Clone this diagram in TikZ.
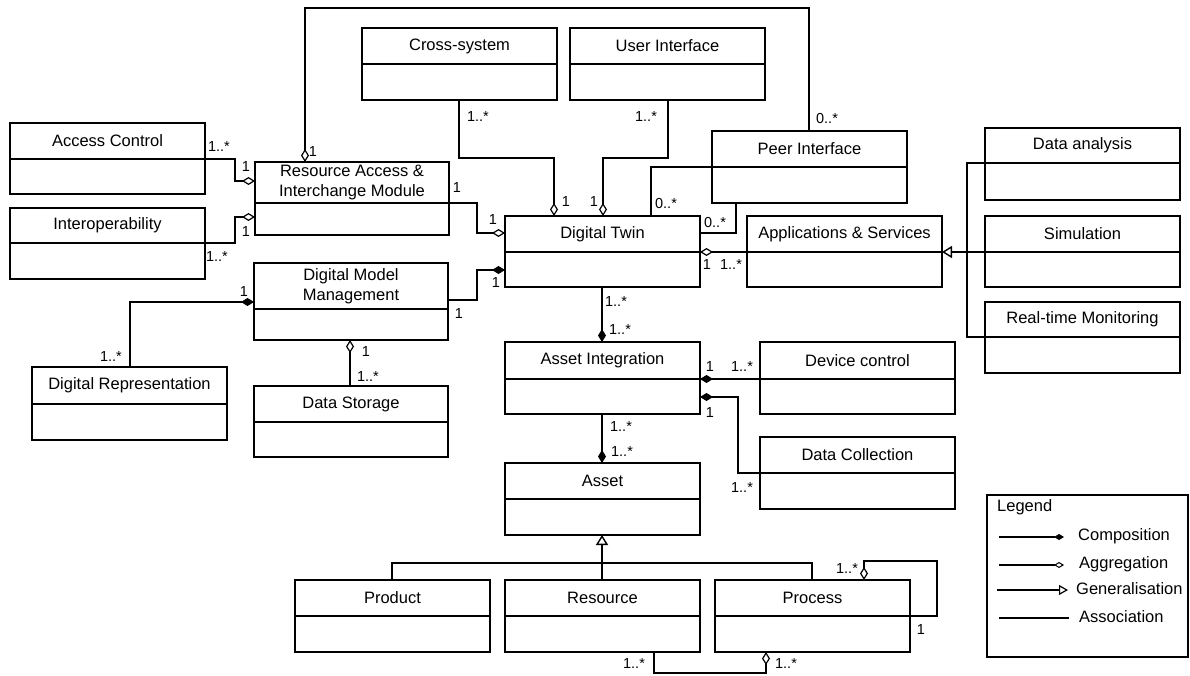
\documentclass[tikz,border=0pt]{standalone}
\usepackage{fontspec}
\setmainfont{Liberation Sans}
\usetikzlibrary{arrows.meta}
\newcommand\umlbox[7]{%
  \node[classbox, minimum width={#4-#2}, minimum height={#5-#3}, anchor=north west] (#1) at (#2,#3) {};
  \draw[divline] (#2,#6) -- (#4,#6);
  \node[ttl] (#1t) at ({(#2+#4)/2},{(#3+#6)/2}) {#7};
}
\begin{document}
\begin{tikzpicture}[x=1pt,y=-1pt,
  classbox/.style={draw, line width=1.6pt, inner sep=0pt, outer sep=0pt},
  divline/.style={line width=2.4pt},
  ttl/.style={font=\fontsize{16.5}{20}\selectfont, align=center, inner sep=0pt},
  conn/.style={line width=1.3pt},
  lbl/.style={font=\fontsize{14.5}{16}\selectfont, inner sep=0pt},
  agg/.style={conn, -{Diamond[open, length=13pt, width=8pt, line width=1.2pt]}},
  comp/.style={conn, -{Diamond[length=13pt, width=8pt]}},
  gen/.style={conn, -{Triangle[open, length=10pt, width=12pt, line width=1.4pt]}},
  lagg/.style={conn, -{Diamond[open, length=10pt, width=6pt, line width=1pt]}},
  lcomp/.style={conn, -{Diamond[length=10pt, width=6pt]}},
  lgen/.style={conn, -{Triangle[open, length=9pt, width=10pt, line width=1.2pt]}},
  ltxt/.style={font=\fontsize{16.5}{20}\selectfont, inner sep=0pt, anchor=west}
]
\useasboundingbox[fill=white] (0,0) rectangle (1190,676);

% class boxes
\umlbox{AC}{10}{123}{205}{194}{159}{Access Control}
\umlbox{IO}{10}{208}{205}{279}{243}{Interoperability}
\umlbox{RA}{255}{162}{449}{235}{203}{Resource Access \&\\Interchange Module}
\umlbox{DMM}{254}{263}{448}{340}{309}{Digital Model\\Management}
\umlbox{DR}{32}{367}{227}{440}{404}{Digital Representation}
\umlbox{DS}{254}{386}{448}{457}{422}{Data Storage}
\umlbox{CS}{362}{28}{557}{100}{64}{Cross-system}
\umlbox{UI}{570}{28}{765}{100}{64}{User Interface}
\umlbox{PI}{712}{131}{907}{203}{167}{Peer Interface}
\umlbox{DT}{505}{216}{700}{287}{252}{Digital Twin}
\umlbox{AS}{747}{216}{942}{287}{252}{Applications \& Services}
\umlbox{DA}{985}{128}{1180}{200}{163}{Data analysis}
\umlbox{SIM}{985}{216}{1180}{287}{252}{Simulation}
\umlbox{RTM}{985}{302}{1180}{373}{337}{Real-time Monitoring}
\umlbox{AI}{505}{342}{700}{414}{379}{Asset Integration}
\umlbox{DEV}{760}{342}{955}{414}{379}{Device control}
\umlbox{DCOL}{760}{437}{955}{509}{473}{Data Collection}
\umlbox{AST}{505}{463}{700}{535}{499}{Asset}
\umlbox{PROD}{295}{580}{490}{652}{616}{Product}
\umlbox{RES}{505}{580}{700}{652}{616}{Resource}
\umlbox{PROC}{715}{580}{910}{652}{616}{Process}

% connectors
\draw[agg] (PI.north -| 809,0) -- (809,8) -- (305,8) -- (RA.north -| 305,0);
\draw[agg] (AC.east |- 0,159) -- (235,159) -- (235,181) -- (RA.west |- 0,181);
\draw[agg] (IO.east |- 0,243) -- (235,243) -- (235,217) -- (RA.west |- 0,217);
\draw[agg] (RA.east |- 0,203) -- (477,203) -- (477,233) -- (DT.west |- 0,233);
\draw[agg] (CS.south -| 459,0) -- (459,158) -- (554,158) -- (DT.north -| 554,0);
\draw[agg] (UI.south -| 668,0) -- (668,158) -- (603,158) -- (DT.north -| 603,0);
\draw[conn] (PI.west |- 0,167) -- (651,167) -- (DT.north -| 651,0);
\draw[conn] (PI.south -| 736,0) -- (736,233) -- (DT.east |- 0,233);
\draw[agg] (AS.west |- 0,252) -- (DT.east |- 0,252);
\draw[gen] (SIM.west |- 0,252) -- (AS.east |- 0,252);
\draw[conn] (DA.west |- 0,163) -- (967,163) -- (967,337) -- (RTM.west |- 0,337);
\draw[comp] (DMM.east |- 0,300) -- (477,300) -- (477,270) -- (DT.west |- 0,270);
\draw[comp] (DR.north -| 130,0) -- (130,302) -- (DMM.west |- 0,302);
\draw[agg] (DS.north -| 350,0) -- (DMM.south -| 350,0);
\draw[comp] (DT.south -| 602,0) -- (AI.north -| 602,0);
\draw[comp] (DEV.west |- 0,379) -- (AI.east |- 0,379);
\draw[comp] (DCOL.west |- 0,473) -- (738,473) -- (738,397) -- (AI.east |- 0,397);
\draw[comp] (AI.south -| 602,0) -- (AST.north -| 602,0);
\draw[gen, line width=2.2pt] (RES.north -| 602,0) -- (AST.south -| 602,0);
\draw[conn] (PROD.north -| 392,0) -- (392,563) -- (812,563) -- (PROC.north -| 812,0);
\draw[agg] (PROC.east |- 0,616) -- (937,616) -- (937,561) -- (864,561) -- (PROC.north -| 864,0);
\draw[agg] (RES.south -| 654,0) -- (654,673) -- (766,673) -- (PROC.south -| 766,0);

% multiplicity labels
\node[lbl] (l1) at (219,147) {1..*};
\node[lbl] (l2) at (246,167) {1};
\node[lbl] (l3) at (313,152) {1};
\node[lbl] (l4) at (246,232) {1};
\node[lbl] (l5) at (217,257) {1..*};
\node[lbl] (l6) at (457,188) {1};
\node[lbl] (l7) at (478,117) {1..*};
\node[lbl] (l8) at (646,117) {1..*};
\node[lbl] (l9) at (827,119) {0..*};
\node[lbl] (l10) at (493,220) {1};
\node[lbl] (l11) at (566,202) {1};
\node[lbl] (l12) at (594,202) {1};
\node[lbl] (l13) at (666,204) {0..*};
\node[lbl] (l14) at (715,223) {0..*};
\node[lbl] (l15) at (707,265) {1};
\node[lbl] (l16) at (731,265) {1..*};
\node[lbl] (l17) at (496,283) {1};
\node[lbl] (l18) at (459,314) {1};
\node[lbl] (l19) at (244,292) {1};
\node[lbl] (l20) at (111,357) {1..*};
\node[lbl] (l21) at (366,352) {1};
\node[lbl] (l22) at (368,377) {1..*};
\node[lbl] (l23) at (616,302) {1..*};
\node[lbl] (l24) at (620,330) {1..*};
\node[lbl] (l25) at (710,367) {1};
\node[lbl] (l26) at (742,367) {1..*};
\node[lbl] (l27) at (710,413) {1};
\node[lbl] (l28) at (621,427) {1..*};
\node[lbl] (l29) at (622,452) {1..*};
\node[lbl] (l30) at (742,488) {1..*};
\node[lbl] (l31) at (847,569) {1..*};
\node[lbl] (l32) at (921,630) {1};
\node[lbl] (l33) at (634,664) {1..*};
\node[lbl] (l34) at (786,664) {1..*};

% legend
\node[classbox, minimum width=201, minimum height=162, anchor=north west] (LEG) at (987,495) {};
\node[ltxt] (legt) at (997,507) {Legend};
\coordinate (lg1a) at (999,537); \coordinate (lg1b) at (1064,537);
\coordinate (lg2a) at (999,565); \coordinate (lg2b) at (1064,565);
\coordinate (lg3a) at (997,590); \coordinate (lg3b) at (1068,590);
\coordinate (lg4a) at (999,618); \coordinate (lg4b) at (1069,618);
\draw[lcomp] (lg1a) -- (lg1b);
\draw[lagg] (lg2a) -- (lg2b);
\draw[lgen] (lg3a) -- (lg3b);
\draw[conn] (lg4a) -- (lg4b);
\node[ltxt] (lgt1) at (1078,536) {Composition};
\node[ltxt] (lgt2) at (1079,564) {Aggregation};
\node[ltxt] (lgt3) at (1076,589) {Generalisation};
\node[ltxt] (lgt4) at (1079,617) {Association};
\end{tikzpicture}
\end{document}
